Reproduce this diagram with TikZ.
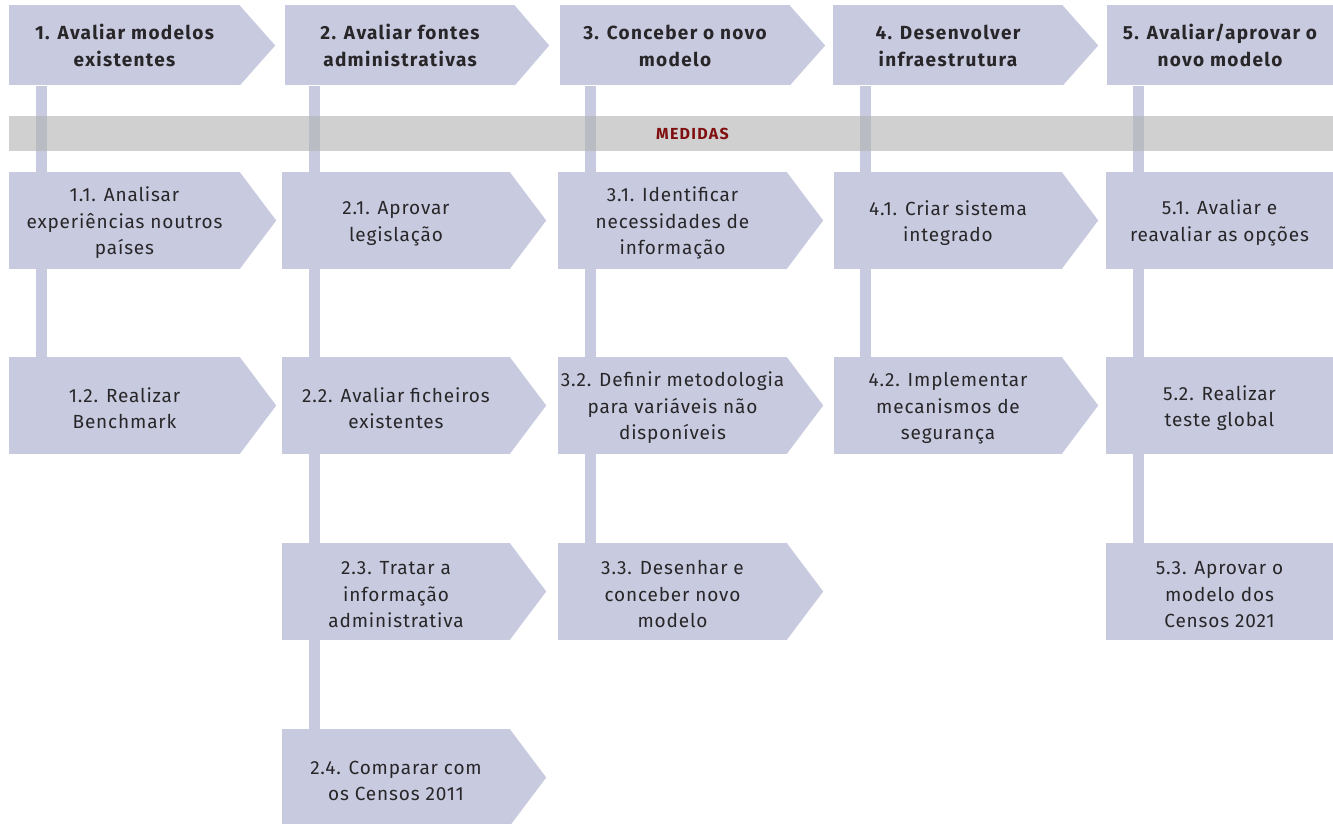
\documentclass[tikz,border=0pt]{standalone}
\usepackage{fontspec}
\setmainfont{Fira Sans}
\newfontfamily\subfont{Fira Sans}[LetterSpace=4.5]
\newfontfamily\hdrfont{Fira Sans}[LetterSpace=7]
\newfontfamily\bandfont{Fira Sans}[LetterSpace=8]
\usetikzlibrary{calc}
\pgfdeclarelayer{bg}
\pgfsetlayers{bg,main}
\definecolor{boxfill}{RGB}{200,203,224}
\definecolor{bandgray}{RGB}{179,179,179}
\definecolor{txt}{RGB}{40,38,40}
\definecolor{medred}{RGB}{128,16,16}
\newcommand\fl{\rule{0pt}{20pt}}
\tikzset{
  boxbase/.style={fill=boxfill, draw=none, inner sep=0pt, align=center, text=txt},
  hdr/.style={boxbase, minimum height=80pt, font=\hdrfont\fontsize{19}{27}\selectfont\bfseries},
  sub/.style={boxbase, minimum height=97pt, font=\subfont\fontsize{19}{26.5}\selectfont},
  colbar/.style={draw=boxfill, line width=11pt, line cap=butt},
  bandbox/.style={fill=bandgray, fill opacity=0.62, draw=none, inner sep=0pt, minimum height=35pt},
}
\newcommand\tipR[2]{\fill[boxfill] ([xshift=-0.6pt]#1.north east) -- ([xshift=#2]#1.east) -- ([xshift=-0.6pt]#1.south east) -- cycle;}
\begin{document}
\begin{tikzpicture}[x=1pt,y=-1pt]
\useasboundingbox (0,0) rectangle (1333,824);
\clip (0,0) rectangle (1333,824);
% column bar positions
\coordinate (x1) at (41,0);
\coordinate (x2) at (314.5,0);
\coordinate (x3) at (590.5,0);
\coordinate (x4) at (865.5,0);
\coordinate (x5) at (1138.5,0);
% headers
\node[hdr, minimum width=231pt] (h1) at (124.5,45.5) {1. Avaliar modelos\\existentes};
\node[hdr, minimum width=230pt] (h2) at (400,45.5) {2. Avaliar fontes\\administrativas};
\node[hdr, minimum width=230pt] (h3) at (675,45.5) {3. Conceber o novo\\modelo};
\node[hdr, minimum width=230pt] (h4) at (948,45.5) {4. Desenvolver\\infraestrutura};
\node[hdr, minimum width=226pt] (h5) at (1220,45.5) {5. Avaliar/aprovar o\\novo modelo};
\tipR{h1}{35pt}
\tipR{h2}{34pt}
\tipR{h3}{35pt}
\tipR{h4}{35pt}
% sub boxes
\node[sub, minimum width=231pt] (a11) at (124.5,220.5) {\fl 1.1. Analisar\\experiências noutros\\países};
\node[sub, minimum width=231pt] (a12) at (124.5,405.5) {\fl 1.2. Realizar\\Benchmark};
\node[sub, minimum width=228pt] (a21) at (396,220.5) {\fl 2.1. Aprovar\\legislação};
\node[sub, minimum width=228pt] (a22) at (396,405.5) {\fl 2.2. Avaliar ficheiros\\existentes};
\node[sub, minimum width=228pt] (a23) at (396,591.5) {\fl 2.3. Tratar a\\informação\\administrativa};
\node[sub, minimum width=228pt] (a24) at (396,777.5) {\fl 2.4. Comparar com\\os Censos 2011};
\node[sub, minimum width=229pt] (a31) at (672.5,220.5) {\fl 3.1. Identificar\\necessidades de\\informação};
\node[sub, minimum width=229pt] (a32) at (672.5,405.5) {\fl 3.2. Definir metodologia\\para variáveis não\\disponíveis};
\node[sub, minimum width=229pt] (a33) at (672.5,591.5) {\fl 3.3. Desenhar e\\conceber novo\\modelo};
\node[sub, minimum width=228pt] (a41) at (948,220.5) {\fl 4.1. Criar sistema\\integrado};
\node[sub, minimum width=228pt] (a42) at (948,405.5) {\fl 4.2. Implementar\\mecanismos de\\segurança};
\node[sub, minimum width=227pt] (a51) at (1219.5,220.5) {\fl 5.1. Avaliar e\\reavaliar as opções};
\node[sub, minimum width=227pt] (a52) at (1219.5,405.5) {\fl 5.2. Realizar\\teste global};
\node[sub, minimum width=227pt] (a53) at (1219.5,591.5) {\fl 5.3. Aprovar o\\modelo dos\\Censos 2021};
\tipR{a11}{36pt}
\tipR{a12}{36pt}
\tipR{a21}{36pt}
\tipR{a22}{36pt}
\tipR{a23}{36pt}
\tipR{a24}{36pt}
\tipR{a31}{36pt}
\tipR{a32}{36pt}
\tipR{a33}{36pt}
\tipR{a41}{36pt}
\tipR{a42}{36pt}
\begin{pgfonlayer}{bg}
% column bars
\draw[colbar] (x1 |- h1.south) -- (x1 |- a12.north);
\draw[colbar] (x2 |- h2.south) -- (x2 |- a24.north);
\draw[colbar] (x3 |- h3.south) -- (x3 |- a33.north);
\draw[colbar] (x4 |- h4.south) -- (x4 |- a42.north);
\draw[colbar] (x5 |- h5.south) -- (x5 |- a53.north);
% band
\node[bandbox, minimum width=1366pt] (band) at (692,133.5) {};
\end{pgfonlayer}
\node[text=medred, font=\bandfont\fontsize{16}{18}\selectfont\bfseries, inner sep=0pt] (medidas) at (692.5,133.5) {MEDIDAS};
\end{tikzpicture}
\end{document}
